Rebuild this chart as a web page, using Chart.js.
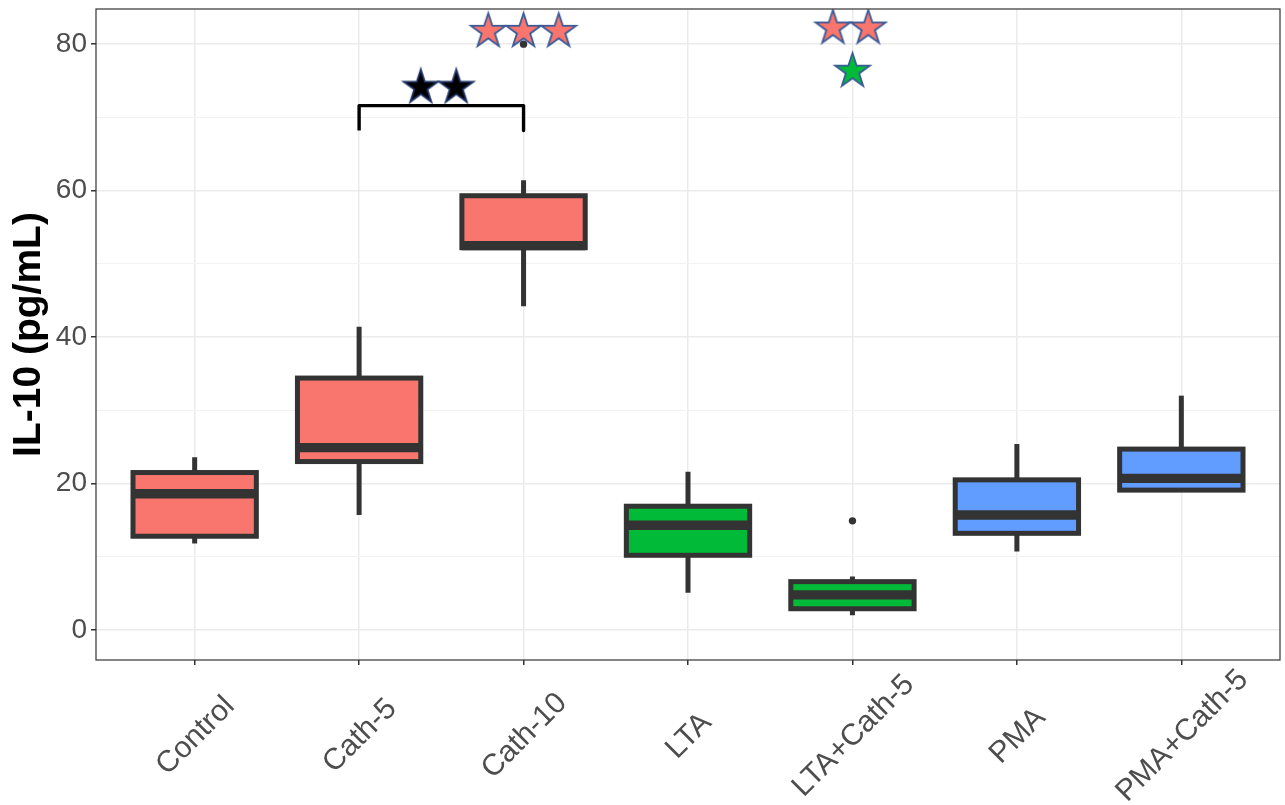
<!DOCTYPE html>
<html><head><meta charset="utf-8">
<script src="https://cdn.jsdelivr.net/npm/chart.js@4.4.1/dist/chart.umd.min.js"></script>
<style>html,body{margin:0;padding:0;background:#fff;}#wrap{width:1285px;height:805px;position:relative;}</style>
</head><body><div id="wrap"><canvas id="c"></canvas></div>
<script>
// ---- data ----
const categories = ['Control','Cath-5','Cath-10','LTA','LTA+Cath-5','PMA','PMA+Cath-5'];
const whiskerLow  = [11.8, 15.7, 44.2, 5.1, 2.0, 10.7, 19.1];
const q1          = [12.8, 23.0, 52.2, 10.2, 2.9, 13.2, 19.1];
const median      = [18.6, 24.9, 52.5, 14.3, 4.8, 15.7, 20.7];
const q3          = [21.5, 34.4, 59.3, 16.9, 6.6, 20.5, 24.7];
const whiskerHigh = [23.6, 41.4, 61.4, 21.6, 7.3, 25.4, 32.0];
const groupColors = ['#F8766D','#F8766D','#F8766D','#00BA38','#00BA38','#619CFF','#619CFF'];
const outlierX = [3, 5];
const outlierY = [80.0, 14.9];
const yTickValues = [0, 20, 40, 60, 80];
// significance markers (x in category units, 1-based)
const starsCath10X = [2.785, 3.0, 3.214];
const starsCath10Y = [81.75, 81.75, 81.75];
const starsPairX = [2.375, 2.591];
const starsPairY = [74.1, 74.1];
const starsLtaX = [4.881, 5.096];
const starsLtaY = [82.2, 82.2];
const starsGreenX = [5.0];
const starsGreenY = [76.3];
const bracketX = [2, 2, 3, 3];
const bracketY = [68.2, 71.6, 71.6, 68.2];
const yTitle = 'IL-10 (pg/mL)';

function makeStar(fill, stroke, R) {
  const s = Math.ceil(2 * R + 6);
  const c = document.createElement('canvas');
  c.width = s; c.height = s;
  const g = c.getContext('2d');
  const cx = s / 2, cy = s / 2;
  g.beginPath();
  for (let k = 0; k < 10; k++) {
    const r = k % 2 ? R * 0.382 : R;
    const a = -Math.PI / 2 + k * Math.PI / 5;
    const px = cx + r * Math.cos(a), py = cy + r * Math.sin(a);
    if (k === 0) g.moveTo(px, py); else g.lineTo(px, py);
  }
  g.closePath();
  g.fillStyle = fill; g.fill();
  g.lineWidth = 1.8; g.strokeStyle = stroke; g.lineJoin = 'miter'; g.stroke();
  return c;
}
const starSalmon = makeStar('#F8766D', '#3A5A98', 18.2);
const starBlack = makeStar('#000000', '#1F3366', 18);
const starGreen = makeStar('#00BA38', '#3A5A98', 18.2);

const zip = (xs, ys) => xs.map((x, i) => ({x, y: ys[i]}));

const boxPlugin = {
  id: 'boxPlugin',
  beforeDatasetsDraw(chart) {
    const ctx = chart.ctx, xs = chart.scales.x, ys = chart.scales.y;
    ctx.save();
    ctx.strokeStyle = '#333333'; ctx.lineWidth = 5; ctx.lineCap = 'butt';
    categories.forEach((c, i) => {
      const x = xs.getPixelForValue(i + 1);
      ctx.beginPath();
      ctx.moveTo(x, ys.getPixelForValue(q3[i])); ctx.lineTo(x, ys.getPixelForValue(whiskerHigh[i]));
      ctx.moveTo(x, ys.getPixelForValue(q1[i])); ctx.lineTo(x, ys.getPixelForValue(whiskerLow[i]));
      ctx.stroke();
    });
    ctx.restore();
  },
  afterDatasetDraw(chart, args) {
    if (args.index !== 0) return;
    const ctx = chart.ctx, xs = chart.scales.x, ys = chart.scales.y;
    const meta = chart.getDatasetMeta(0);
    ctx.save();
    ctx.strokeStyle = '#333333';
    categories.forEach((c, i) => {
      const el = meta.data[i];
      const x = xs.getPixelForValue(i + 1);
      const hw = el.width / 2;
      const yTop = ys.getPixelForValue(q3[i]), yBot = ys.getPixelForValue(q1[i]);
      ctx.lineWidth = 5; ctx.lineJoin = 'miter';
      ctx.strokeRect(x - hw, yTop, 2 * hw, yBot - yTop);
      const ym = ys.getPixelForValue(median[i]);
      ctx.lineWidth = 9.3; ctx.lineCap = 'butt';
      ctx.beginPath(); ctx.moveTo(x - hw, ym); ctx.lineTo(x + hw, ym); ctx.stroke();
    });
    ctx.restore();
  },
  afterDraw(chart) {
    const ctx = chart.ctx, xs = chart.scales.x, a = chart.chartArea;
    ctx.save();
    ctx.strokeStyle = '#333333'; ctx.lineWidth = 1.2;
    ctx.strokeRect(a.left, a.top, a.right - a.left, a.bottom - a.top);
    ctx.fillStyle = '#4D4D4D';
    ctx.font = '30px "Liberation Sans", Arial, sans-serif';
    ctx.textAlign = 'center'; ctx.textBaseline = 'middle';
    categories.forEach((c, i) => {
      const x = xs.getPixelForValue(i + 1);
      ctx.save();
      ctx.translate(x + 1, 736);
      ctx.rotate(-Math.PI / 4);
      ctx.fillText(c, 0, 0);
      ctx.restore();
    });
    ctx.restore();
  }
};

new Chart(document.getElementById('c'), {
  type: 'bar',
  data: {
    datasets: [
      {
        type: 'bar',
        data: categories.map((c, i) => ({x: i + 1, y: [q1[i], q3[i]]})),
        backgroundColor: groupColors,
        borderWidth: 0,
        barPercentage: 0.75,
        categoryPercentage: 1,
        order: 10
      },
      {
        type: 'scatter',
        data: zip(outlierX, outlierY),
        backgroundColor: '#333333', borderWidth: 0, pointRadius: 3.7,
        order: 8
      },
      {
        type: 'scatter',
        data: zip(bracketX, bracketY),
        showLine: true, borderColor: '#000000', borderWidth: 3.4,
        borderJoinStyle: 'round', pointRadius: 0, order: 6
      },
      { type: 'scatter', data: zip(starsCath10X, starsCath10Y), pointStyle: starSalmon, order: 1 },
      { type: 'scatter', data: zip(starsPairX, starsPairY), pointStyle: starBlack, order: 1 },
      { type: 'scatter', data: zip(starsLtaX, starsLtaY), pointStyle: starSalmon, order: 1 },
      { type: 'scatter', data: zip(starsGreenX, starsGreenY), pointStyle: starGreen, order: 1 }
    ]
  },
  options: {
    responsive: true,
    maintainAspectRatio: false,
    animation: false,
    layout: {padding: {left: 0, right: 0, top: 9, bottom: 0}},
    plugins: {legend: {display: false}, tooltip: {enabled: false}},
    scales: {
      x: {
        type: 'linear',
        offset: false,
        min: 0.4, max: 7.6,
        afterFit(s) { s.height = 145; s.paddingLeft = 0; s.paddingRight = 0; },
        border: {display: false},
        grid: {color: '#EBEBEB', lineWidth: 1.5, tickColor: '#333333', tickLength: 5, drawTicks: true, offset: false},
        ticks: {stepSize: 1, includeBounds: false, autoSkip: false, maxRotation: 0, minRotation: 0,
          callback: () => '', font: {size: 1}}
      },
      y: {
        type: 'linear',
        min: -4.1, max: 84.8,
        afterFit(s) { s.width = 96; s.paddingTop = 0; s.paddingBottom = 0; },
        border: {display: false},
        grid: {
          color: (c) => (c.tick && yTickValues.includes(c.tick.value)) ? '#EBEBEB' : '#F3F3F3',
          lineWidth: (c) => (c.tick && yTickValues.includes(c.tick.value)) ? 1.5 : 1,
          tickColor: (c) => (c.tick && yTickValues.includes(c.tick.value)) ? '#333333' : 'rgba(0,0,0,0)',
          tickLength: 5
        },
        ticks: {
          stepSize: 10, includeBounds: false, padding: 4,
          color: '#4D4D4D',
          font: {size: 28, family: '"Liberation Sans", Arial, sans-serif'},
          callback: (v) => yTickValues.includes(v) ? String(v) : ''
        },
        title: {
          display: true, text: yTitle, color: '#000000',
          font: {size: 39, weight: 'bold', family: '"Liberation Sans", Arial, sans-serif'},
          padding: {top: 6, bottom: 0}
        }
      }
    }
  },
  plugins: [boxPlugin]
});
</script></body></html>
